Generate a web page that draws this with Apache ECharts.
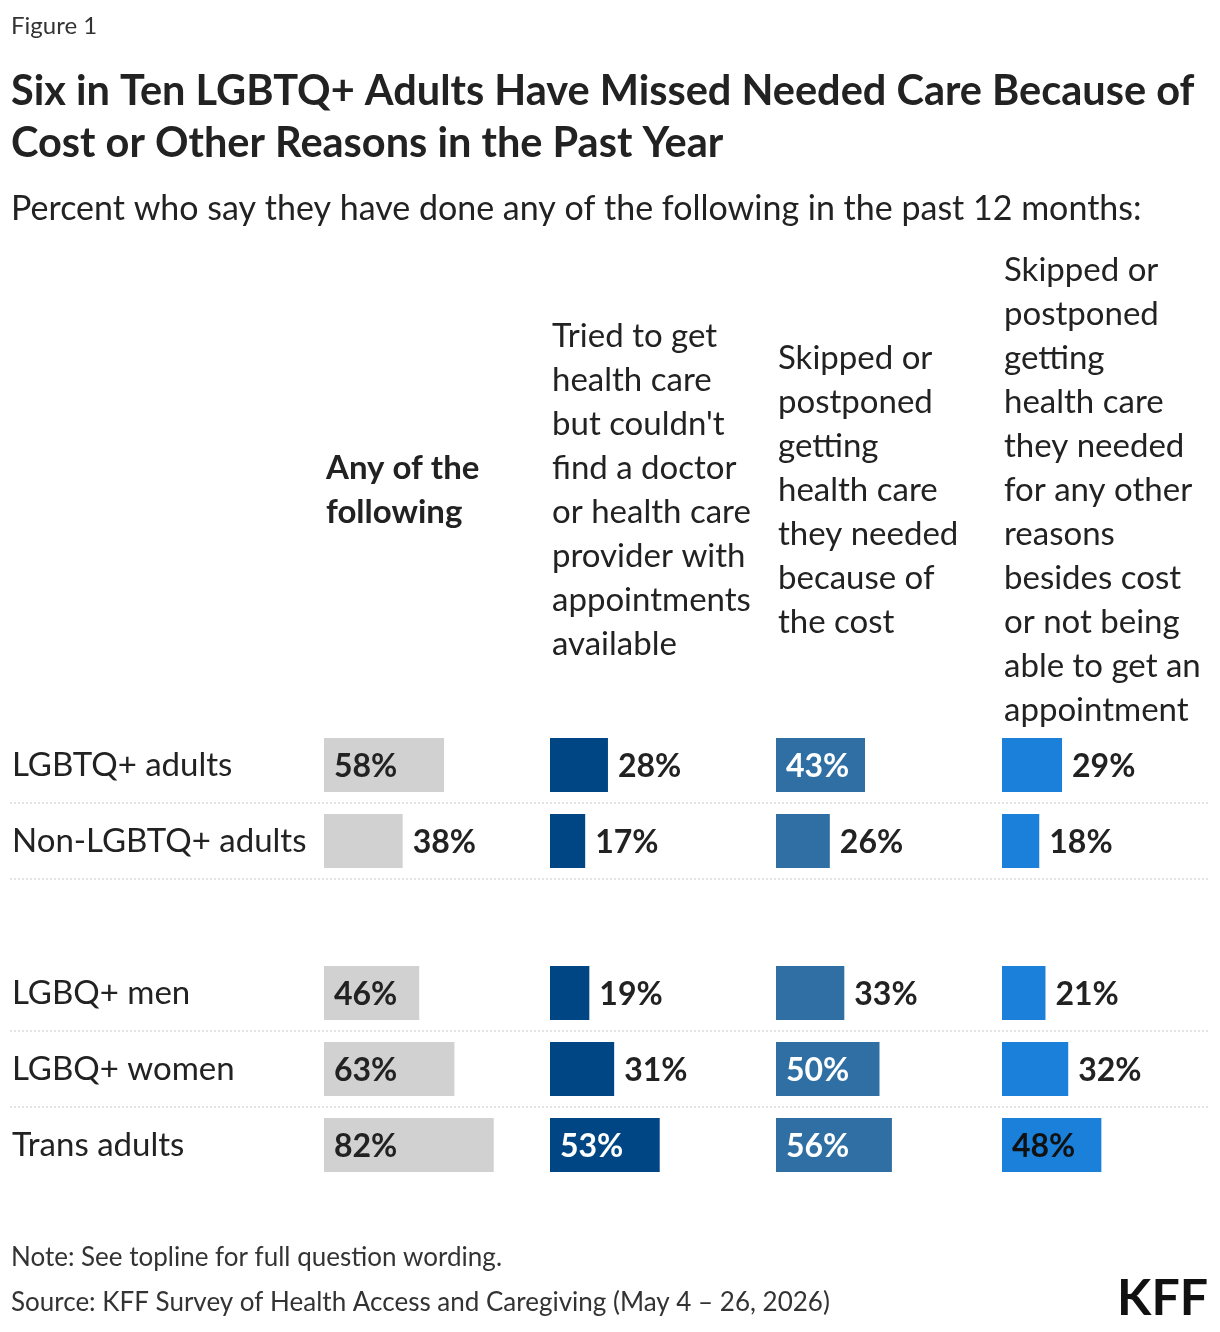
<!DOCTYPE html>
<html><head><meta charset="utf-8">
<script src="https://cdn.jsdelivr.net/npm/echarts@6/dist/echarts.min.js"></script>
<style>html,body{margin:0;background:#fff}#c{width:1220px;height:1332px}</style>
</head><body><div id="c"></div>
<script>
// rows (blank one is the gap between groups)
var rowNames = ['LGBTQ+ adults', 'Non-LGBTQ+ adults', '', 'LGBQ+ men', 'LGBQ+ women', 'Trans adults'];
var anyOf     = [58, 38, null, 46, 63, 82];
var noDoctor  = [28, 17, null, 19, 31, 53];
var costSkip  = [43, 26, null, 33, 50, 56];
var otherSkip = [29, 18, null, 21, 32, 48];
var headers = [
  'Any of the\nfollowing',
  "Tried to get\nhealth care\nbut couldn't\nfind a doctor\nor health care\nprovider with\nappointments\navailable",
  'Skipped or\npostponed\ngetting\nhealth care\nthey needed\nbecause of\nthe cost',
  'Skipped or\npostponed\ngetting\nhealth care\nthey needed\nfor any other\nreasons\nbesides cost\nor not being\nable to get an\nappointment'
];

var F = 'Lato, "Noto Sans", sans-serif';
var cols = [
  {data: anyOf, color: '#d1d1d1', inText: '#222'},
  {data: noDoctor, color: '#004684', inText: '#fff'},
  {data: costSkip, color: '#2f6fa3', inText: '#fff'},
  {data: otherSkip, color: '#1a80d9', inText: '#111'}
];
var lefts = [324, 550, 776, 1002];

var grids = [], xAxes = [], yAxes = [], series = [], graphics = [];
cols.forEach(function (c, i) {
  grids.push({left: lefts[i], width: 207, top: 727, height: 456});
  xAxes.push({gridIndex: i, type: 'value', min: 0, max: 100, show: false});
  yAxes.push({
    gridIndex: i, type: 'category', data: rowNames, inverse: true,
    axisLine: {show: false}, axisTick: {show: false},
    axisLabel: i === 0 ? {show: true, align: 'left', margin: 312, fontSize: 33, color: '#222', fontFamily: F} : {show: false}
  });
  series.push({
    type: 'bar', xAxisIndex: i, yAxisIndex: i, barWidth: 54,
    data: c.data.map(function (v) {
      if (v == null) return null;
      var inside = v >= 40;
      return {value: v, label: {
        position: inside ? 'insideLeft' : 'right',
        color: inside ? c.inText : '#222', distance: 10
      }};
    }),
    itemStyle: {color: c.color},
    label: {show: true, formatter: '{c}%', fontSize: 32, fontWeight: 'bold', fontFamily: F, offset: [0, 2]},
    silent: true
  });
  var n = headers[i].split('\n').length;
  graphics.push({type: 'text', left: lefts[i] + 2, top: 490 - n * 22,
    style: {text: headers[i], font: (i === 0 ? 'bold ' : '') + '33px ' + F, lineHeight: 44, fill: '#222'}});
});

[803, 879, 1031, 1107].forEach(function (y) {
  graphics.push({type: 'line', shape: {x1: 10, y1: y, x2: 1208, y2: y},
    style: {stroke: '#c8c8c8', lineWidth: 1, lineDash: [2, 2]}});
});
graphics.push({type: 'text', left: 11, top: 14, style: {text: 'Figure 1', font: '24px ' + F, fill: '#333'}});
graphics.push({type: 'text', left: 11, top: 66, style: {
  text: 'Six in Ten LGBTQ+ Adults Have Missed Needed Care Because of\nCost or Other Reasons in the Past Year',
  font: 'bold 41.5px ' + F, lineHeight: 52, fill: '#222'}});
graphics.push({type: 'text', left: 11, top: 192, style: {
  text: 'Percent who say they have done any of the following in the past 12 months:',
  font: '34px ' + F, fill: '#222'}});
graphics.push({type: 'text', left: 11, top: 1245, style: {text: 'Note: See topline for full question wording.', font: '26px ' + F, fill: '#333'}});
graphics.push({type: 'text', left: 11, top: 1290, style: {text: 'Source: KFF Survey of Health Access and Caregiving (May 4 \u2013 26, 2026)', font: '26px ' + F, fill: '#333'}});
graphics.push({type: 'text', right: 12, top: 1274, style: {text: 'KFF', font: 'bold 50px ' + F, fill: '#111'}});

var chart = echarts.init(document.getElementById('c'));
chart.setOption({
  animation: false,
  grid: grids, xAxis: xAxes, yAxis: yAxes, series: series, graphic: graphics
});
</script>
</body></html>
